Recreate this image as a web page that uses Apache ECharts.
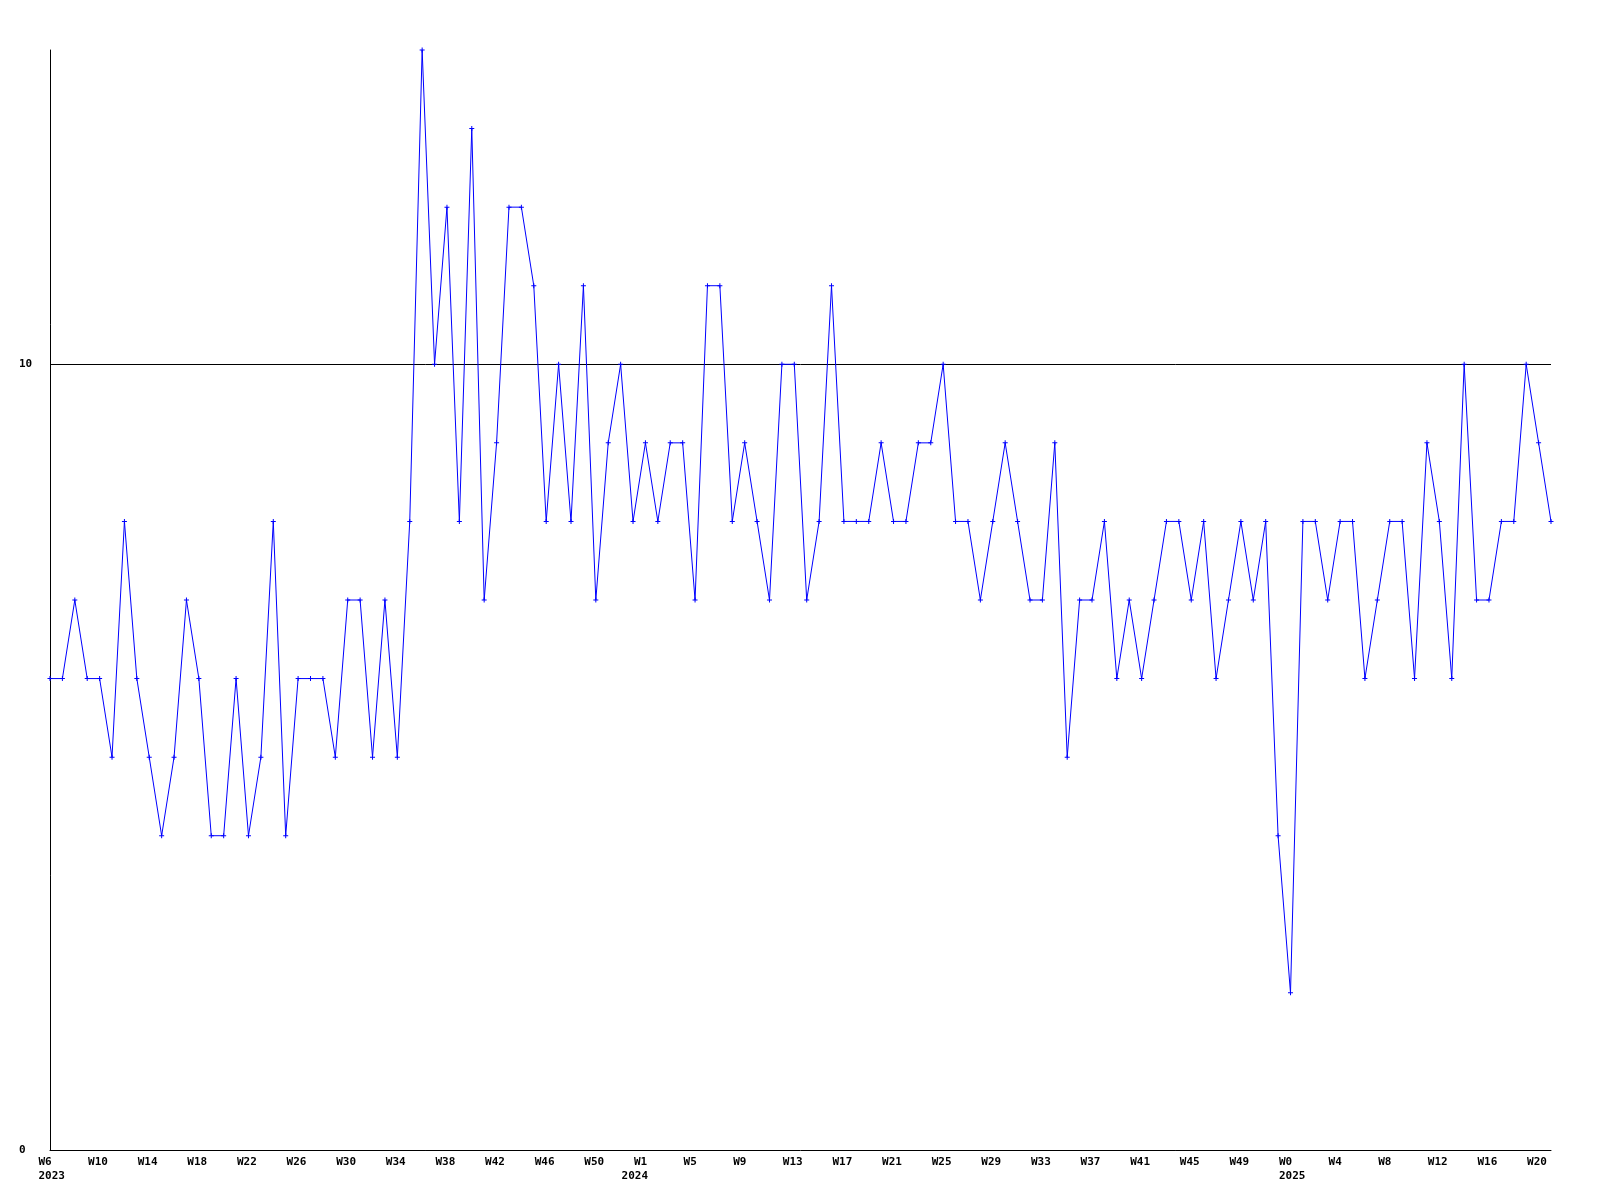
<!DOCTYPE html>
<html>
<head>
<meta charset="utf-8">
<script src="https://cdn.jsdelivr.net/npm/echarts@6/dist/echarts.min.js"></script>
<style>
  html, body { margin: 0; padding: 0; background: #ffffff; }
  #chart { width: 1600px; height: 1200px; }
</style>
</head>
<body>
<div id="chart"></div>
<script>
// Weekly categories (year, week-of-year)
const weeks2023 = ["2023-W6","2023-W7","2023-W8","2023-W9","2023-W10","2023-W11","2023-W12","2023-W13","2023-W14","2023-W15",
  "2023-W16","2023-W17","2023-W18","2023-W19","2023-W20","2023-W21","2023-W22","2023-W23","2023-W24","2023-W25",
  "2023-W26","2023-W27","2023-W28","2023-W29","2023-W30","2023-W31","2023-W32","2023-W33","2023-W34","2023-W35",
  "2023-W36","2023-W37","2023-W38","2023-W39","2023-W40","2023-W41","2023-W42","2023-W43","2023-W44","2023-W45",
  "2023-W46","2023-W47","2023-W48","2023-W49","2023-W50","2023-W51","2023-W52"];
const weeks2024 = ["2024-W0","2024-W1","2024-W2","2024-W3","2024-W4","2024-W5","2024-W6","2024-W7","2024-W8","2024-W9","2024-W10",
  "2024-W11","2024-W12","2024-W13","2024-W14","2024-W15","2024-W16","2024-W17","2024-W18","2024-W19","2024-W20",
  "2024-W21","2024-W22","2024-W23","2024-W24","2024-W25","2024-W26","2024-W27","2024-W28","2024-W29","2024-W30",
  "2024-W31","2024-W32","2024-W33","2024-W34","2024-W35","2024-W36","2024-W37","2024-W38","2024-W39","2024-W40",
  "2024-W41","2024-W42","2024-W43","2024-W44","2024-W45","2024-W46","2024-W47","2024-W48","2024-W49","2024-W50",
  "2024-W51","2024-W52"];
const weeks2025 = ["2025-W0","2025-W1","2025-W2","2025-W3","2025-W4","2025-W5","2025-W6","2025-W7","2025-W8","2025-W9",
  "2025-W10","2025-W11","2025-W12","2025-W13","2025-W14","2025-W15","2025-W16","2025-W17","2025-W18","2025-W19",
  "2025-W20","2025-W21"];

// Series values (one per week)
const values2023 = [6,6,7,6,6,5,8,6,5,4, 5,7,6,4,4,6,4,5,8,4, 6,6,6,5,7,7,5,7,5,8, 14,10,12,8,13,7,9,12,12,11, 8,10,8,11,7,9,10];
const values2024 = [8,9,8, 9,9,7,11,11,8,9,8,7,10, 10,7,8,11,8,8,8,9,8,8, 9,9,10,8,8,7,8,9,8,7, 7,9,5,7,7,8,6,7,6,7, 8,8,7,8,6,7,8,7,8,4];
const values2025 = [2,8,8,7,8,8,6,7,8,8, 6,9,8,6,10,7,7,8,8,10, 9,8];

// Week tick labels on the x axis
const xTickLabels = ["2023-W6","2023-W10","2023-W14","2023-W18","2023-W22","2023-W26","2023-W30","2023-W34","2023-W38","2023-W42","2023-W46","2023-W50",
  "2024-W1","2024-W5","2024-W9","2024-W13","2024-W17","2024-W21","2024-W25","2024-W29","2024-W33","2024-W37","2024-W41","2024-W45","2024-W49",
  "2025-W0","2025-W4","2025-W8","2025-W12","2025-W16","2025-W20"];
// Year labels (second line), at the first week of each year
const yearTickLabels = ["2023-W6","2024-W0","2025-W0"];
const yTickLabels = [0, 10];
const refLineValue = 10;

const categories = weeks2023.concat(weeks2024, weeks2025);
const values = values2023.concat(values2024, values2025);

const weekSet = new Set(xTickLabels);
const yearSet = new Set(yearTickLabels);

const FONT = '"DejaVu Sans Mono", "Liberation Mono", monospace';

const chart = echarts.init(document.getElementById('chart'), null, { renderer: 'canvas' });
chart.setOption({
  backgroundColor: '#ffffff',
  animation: false,
  grid: { left: 50, right: 49, top: 50, bottom: 50 },
  xAxis: {
    type: 'category',
    data: categories,
    boundaryGap: false,
    axisLine: { show: true, lineStyle: { color: '#000000', width: 1 } },
    axisTick: { show: false },
    splitLine: { show: false },
    axisLabel: {
      show: true,
      interval: function (idx, val) { return weekSet.has(val) || yearSet.has(val); },
      align: 'center',
      margin: 5,
      formatter: function (val) {
        const parts = val.split('-');
        let s = '{a|' + (weekSet.has(val) ? parts[1] : ' ') + '}';
        if (yearSet.has(val)) s += '\n{a|' + parts[0] + '}';
        return s;
      },
      rich: {
        a: {
          width: 23,
          align: 'left',
          fontFamily: FONT,
          fontSize: 11,
          fontWeight: 'bold',
          lineHeight: 14,
          color: '#000000'
        }
      }
    }
  },
  yAxis: {
    type: 'value',
    min: 0,
    max: 14,
    interval: 10,
    axisLine: { show: true, lineStyle: { color: '#000000', width: 1 } },
    axisTick: { show: false },
    splitLine: { show: false },
    axisLabel: {
      showMaxLabel: false,
      align: 'left',
      margin: 31,
      fontFamily: FONT,
      fontSize: 11,
      fontWeight: 'bold',
      color: '#000000',
      formatter: function (v) { return yTickLabels.indexOf(v) >= 0 ? String(v) : ''; }
    }
  },
  series: [{
    type: 'line',
    data: values,
    symbol: 'path://M2,0L3,0L3,2L5,2L5,3L3,3L3,5L2,5L2,3L0,3L0,2L2,2Z',
    symbolSize: 5,
    showAllSymbol: true,
    lineStyle: { color: '#0000ff', width: 1 },
    itemStyle: { color: '#0000ff' },
    clip: false,
    markLine: {
      silent: true,
      symbol: ['none', 'none'],
      label: { show: false },
      lineStyle: { color: '#000000', width: 1, type: 'solid' },
      data: [{ yAxis: refLineValue }],
      z: 1
    }
  }]
});
</script>
</body>
</html>
